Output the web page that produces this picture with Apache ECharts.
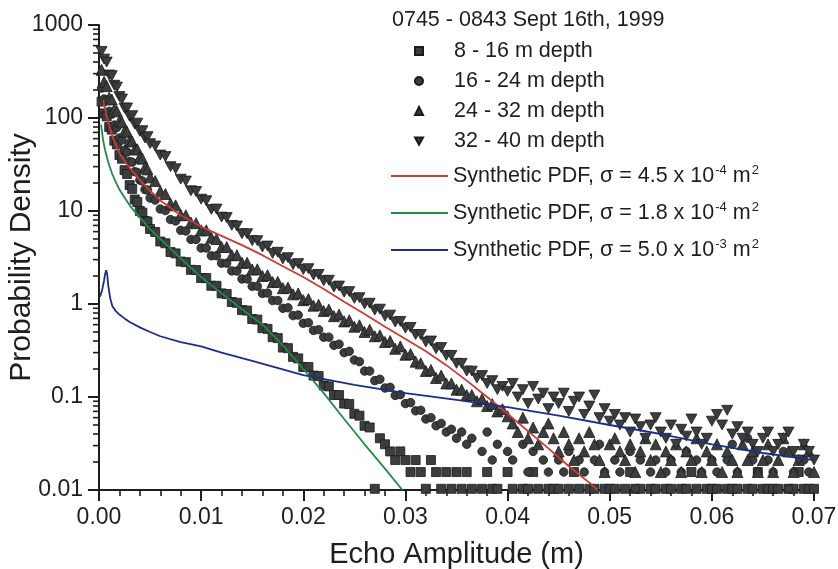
<!DOCTYPE html>
<html>
<head>
<meta charset="utf-8">
<script src="https://cdn.jsdelivr.net/npm/echarts@6/dist/echarts.min.js"></script>
<style>
  html, body { margin: 0; padding: 0; background: #ffffff; }
  #chart { width: 838px; height: 569px; }
</style>
</head>
<body>
<div id="chart"></div>
<script>
// ---------- DATA ----------
const title = '0745 - 0843 Sept 16th, 1999';
const xTitle = 'Echo Amplitude (m)';
const yTitle = 'Probability Density';
const depthNames = ['8 - 16 m depth', '16 - 24 m depth', '24 - 32 m depth', '32 - 40 m depth'];
const pdfNames = ['Synthetic PDF, σ = 4.5 x 10^-4 m^2', 'Synthetic PDF, σ = 1.8 x 10^-4 m^2', 'Synthetic PDF, σ = 5.0 x 10^-3 m^2'];
const yMinorTicks = [0.02,0.03,0.04,0.05,0.06,0.07,0.08,0.09, 0.2,0.3,0.4,0.5,0.6,0.7,0.8,0.9,
  2,3,4,5,6,7,8,9, 20,30,40,50,60,70,80,90, 200,300,400,500,600,700,800,900];

// histogram bin amplitudes (m)
const amplitude = [
0.00025,0.0005,0.00075,0.001,0.00125,0.0015,0.00175,0.002,0.00225,0.0025,
0.00275,0.003,0.00325,0.0035,0.00375,0.004,0.00425,0.0045,0.00475,0.005,
0.0055,0.006,0.0065,0.007,0.0075,0.008,0.0085,0.009,0.0095,0.010,
0.0105,0.011,0.0115,0.012,0.0125,0.013,0.0135,0.014,0.0145,0.015,
0.0155,0.016,0.0165,0.017,0.0175,0.018,0.0185,0.019,0.0195,0.020,
0.0205,0.021,0.0215,0.022,0.0225,0.023,0.0235,0.024,0.0245,0.025,
0.0255,0.026,0.0265,0.027,0.0275,0.028,0.0285,0.029,0.0295,0.030,
0.0305,0.031,0.0315,0.032,0.0325,0.033,0.0335,0.034,0.0345,0.035,
0.0355,0.036,0.0365,0.037,0.0375,0.038,0.0385,0.039,0.0395,0.040,
0.0405,0.041,0.0415,0.042,0.0425,0.043,0.0435,0.044,0.0445,0.045,
0.0455,0.046,0.0465,0.047,0.0475,0.048,0.0485,0.049,0.0495,0.050,
0.0505,0.051,0.0515,0.052,0.0525,0.053,0.0535,0.054,0.0545,0.055,
0.0555,0.056,0.0565,0.057,0.0575,0.058,0.0585,0.059,0.0595,0.060,
0.0605,0.061,0.0615,0.062,0.0625,0.063,0.0635,0.064,0.0645,0.065,
0.0655,0.066,0.0665,0.067,0.0675,0.068,0.0685,0.069,0.0695,0.070];

// 8 - 16 m depth (squares)
const depth8to16 = [
150,112,104,80,75,57,52,40,36.5,27.5,
25,19,17.3,13.3,12.5,10,9.6,7.8,7.7,6.4,
5.95,4.7,4.5,3.62,3.5,2.86,2.82,2.33,2.32,1.9,
1.9,1.57,1.57,1.3,1.28,1.05,1.03,0.86,0.85,0.69,
0.68,0.55,0.54,0.44,0.43,0.34,0.335,0.27,0.26,0.21,
0.21,0.17,0.168,0.133,0.13,0.105,0.105,0.085,0.084,0.066,
0.063,0.049,0.047,0.0103,0.036,0.031,0.026,0.021,0.026,0.021,
0.0156,0.021,0.0156,0.0103,0.021,0.0156,0.0103,0.0156,0.0103,0.0156,
0.0103,0.0156,0.0103,null,0.0103,0.0156,0.0103,0.0103,null,0.0156,
0.0103,null,0.0103,0.0103,0.0156,0.0103,null,0.0103,0.0103,0.0103,
null,0.0103,0.0156,0.0103,null,0.0103,0.0103,null,0.0103,0.0103,
0.0103,null,0.0103,0.0156,0.0103,0.0103,null,0.0103,0.0103,null,
0.0103,0.0103,null,0.0103,0.0103,0.0156,0.0103,null,0.0103,0.0103,
0.0103,null,0.0103,0.0103,0.0103,null,0.0103,0.0103,0.0156,0.0103,
0.0103,0.0103,0.0103,null,0.0103,0.0103,0.0156,0.0103,0.0103,0.0103];

// 16 - 24 m depth (circles)
const depth16to24 = [
210,160,155,118,110,84,79,61,58,45,
43,34,33.5,26.5,26,21.5,21,17,16.8,13.8,
13.1,10.5,10.1,8.1,7.8,6.2,6.1,4.95,4.95,4.0,
4.0,3.3,3.3,2.75,2.75,2.27,2.26,1.86,1.86,1.55,
1.55,1.3,1.31,1.09,1.09,0.9,0.91,0.75,0.76,0.62,
0.63,0.52,0.53,0.44,0.44,0.36,0.37,0.3,0.31,0.25,
0.24,0.19,0.19,0.15,0.155,0.125,0.127,0.104,0.106,0.085,
0.087,0.071,0.072,0.058,0.06,0.049,0.052,0.042,0.045,0.036,
0.042,0.031,0.036,null,0.026,0.042,0.021,0.031,null,0.026,
0.021,null,0.031,0.0156,0.026,null,0.021,0.0156,null,0.021,
0.0156,0.026,null,0.021,0.0156,null,0.021,0.031,0.0156,null,
0.021,0.0156,null,0.026,0.0103,0.021,null,0.0156,0.021,null,
0.0156,0.021,null,0.0156,0.026,null,0.021,0.0156,null,0.021,
0.0156,null,0.021,0.031,0.0156,null,0.036,0.021,0.0156,null,
0.021,0.0156,null,0.026,0.0103,0.0156,null,0.021,0.0156,null];

// 24 - 32 m depth (triangles)
const depth24to32 = [
330,245,220,165,158,124,118,93,90,72,
71,57,56,46,46,38,36.5,29.5,28,23,
21,16.3,15.2,12,11.5,9.1,9.0,7.5,7.4,6.2,
6.2,5.15,5.0,4.1,4.1,3.35,3.35,2.78,2.78,2.35,
2.36,2.0,2.04,1.72,1.73,1.48,1.5,1.27,1.3,1.1,
1.13,0.96,0.98,0.84,0.87,0.74,0.77,0.65,0.67,0.57,
0.59,0.5,0.53,0.45,0.46,0.39,0.4,0.33,0.35,0.285,
0.29,0.24,0.23,0.19,0.195,0.16,0.17,0.14,0.14,0.12,
0.12,0.105,0.105,0.09,0.095,0.08,0.084,0.07,0.074,0.062,
0.052,0.042,0.06,0.036,0.047,0.031,0.042,0.052,0.036,0.026,
0.042,0.031,0.021,0.036,0.026,0.042,0.031,0.021,0.0156,0.031,
0.036,0.026,0.021,0.031,0.0156,0.026,0.036,0.021,0.031,0.0156,
0.026,0.021,0.031,0.0156,0.026,0.021,0.036,0.0156,0.026,0.021,
0.031,0.0156,0.026,0.021,0.0156,0.031,0.021,0.026,0.0156,0.021,
0.031,0.0156,0.021,0.036,0.026,0.0156,0.021,0.031,0.026,0.0156];

// 32 - 40 m depth (inverted triangles)
const depth32to40 = [
520,430,400,290,285,225,215,170,160,128,
128,104,106,86,88,72,73,61,63,53,
50,40,38.5,30,28.5,22,21,16.5,16.2,13.4,
12.9,10.4,10.5,8.6,8.5,7.0,6.9,5.7,5.7,4.8,
4.8,4.1,4.2,3.5,3.6,3.05,3.15,2.65,2.72,2.35,
2.4,2.05,2.08,1.78,1.8,1.52,1.56,1.34,1.36,1.15,
1.17,1.0,1.02,0.86,0.88,0.74,0.76,0.64,0.65,0.55,
0.56,0.47,0.47,0.39,0.4,0.33,0.34,0.28,0.28,0.23,
0.23,0.19,0.19,0.16,0.17,0.14,0.15,0.12,0.13,0.115,
0.14,0.1,0.12,0.085,0.13,0.095,0.11,0.075,0.1,0.085,
0.11,0.07,0.09,0.1,0.065,0.08,0.105,0.06,0.075,0.055,
0.065,0.05,0.06,0.042,0.058,0.048,0.036,0.05,0.06,0.042,
0.036,0.05,0.031,0.045,0.038,0.058,0.042,0.031,0.036,0.055,
0.065,0.05,0.072,0.04,0.048,0.036,0.042,0.031,0.026,0.036,
0.042,0.026,0.031,0.036,0.042,0.026,0.021,0.031,0.026,0.021];

// Synthetic PDF curves
const redAmp = [0.0004,0.0006,0.0008,0.001,0.0014,0.002,0.0024,0.003,0.004,0.005,0.006,0.008,0.010,0.012,0.014,0.016,0.018,0.020,0.022,0.024,0.026,0.028,0.030,0.032,0.034,0.036,0.038,0.040,0.042,0.044,0.046,0.048,0.0488];
const redPdf = [155,125,100,82,60,42,36,29,21.5,16.5,13,9,6.8,5.4,4.3,3.35,2.55,1.95,1.45,1.06,0.78,0.57,0.42,0.31,0.22,0.15,0.1,0.066,0.043,0.028,0.018,0.012,0.01];

const greenAmp = [0.0002,0.0004,0.0006,0.0008,0.001,0.0013,0.0016,0.002,0.0025,0.003,0.004,0.005,0.006,0.008,0.010,0.012,0.014,0.016,0.018,0.020,0.022,0.024,0.026,0.028,0.0297];
const greenPdf = [85,58,45,37,31,25,21,17,14,11.5,8.5,6.4,5.0,3.1,1.95,1.3,0.88,0.6,0.36,0.2,0.11,0.058,0.031,0.017,0.01];

const blueAmp = [0.0001,0.0003,0.0005,0.0006,0.0007,0.0008,0.0009,0.0011,0.0013,0.0016,0.002,0.0025,0.003,0.004,0.005,0.006,0.008,0.010,0.012,0.015,0.020,0.025,0.030,0.035,0.040,0.045,0.050,0.055,0.060,0.065,0.070];
const bluePdf = [1.2,1.4,1.8,2.1,2.3,2.1,1.6,1.15,0.95,0.85,0.77,0.7,0.64,0.56,0.5,0.45,0.39,0.35,0.3,0.245,0.172,0.135,0.11,0.093,0.078,0.063,0.05,0.04,0.031,0.025,0.021];

// ---------- CHART ----------
const FONT = "'Liberation Sans', Arial, Helvetica, sans-serif";
const INK = '#1e1e1e';
const MARK = '#3a3e3f';
const DOWN_TRIANGLE = 'path://M0,0 L10,0 L5,9 Z';

function pairs(xs, ys) {
  const out = [];
  for (let i = 0; i < xs.length; i++) if (ys[i] != null) out.push([xs[i], ys[i]]);
  return out;
}

const scatterDefs = [
  { name: depthNames[0], data: depth8to16, symbol: 'rect', size: 9 },
  { name: depthNames[1], data: depth16to24, symbol: 'circle', size: 8.5 },
  { name: depthNames[2], data: depth24to32, symbol: 'triangle', size: 11 },
  { name: depthNames[3], data: depth32to40, symbol: DOWN_TRIANGLE, size: 11 }
];
const lineDefs = [
  { name: pdfNames[0], x: redAmp, y: redPdf, color: '#cc3a36' },
  { name: pdfNames[1], x: greenAmp, y: greenPdf, color: '#238a4a' },
  { name: pdfNames[2], x: blueAmp, y: bluePdf, color: '#1d2e86' }
];

const series = [];
scatterDefs.forEach(d => {
  series.push({
    type: 'scatter', name: d.name, data: pairs(amplitude, d.data),
    symbol: d.symbol, symbolSize: d.size, symbolKeepAspect: true,
    itemStyle: { color: MARK, borderColor: '#1a1a1a', borderWidth: 0.8, opacity: 1 },
    z: 2, silent: true
  });
});
lineDefs.forEach(d => {
  series.push({
    type: 'line', name: d.name, data: pairs(d.x, d.y),
    symbol: 'none', smooth: false,
    color: d.color, lineStyle: { color: d.color, width: 1.8 },
    z: 4, silent: true
  });
});
series.push({
  type: 'custom', name: 'yMinorTicks', silent: true, clip: false, z: 5,
  data: yMinorTicks.map(v => [0, v]),
  encode: { x: 0, y: 1 },
  renderItem: function (params, api) {
    const p = api.coord([api.value(0), api.value(1)]);
    return { type: 'line', shape: { x1: p[0] - 6, y1: p[1], x2: p[0], y2: p[1] },
             style: { stroke: INK, lineWidth: 1.6 } };
  }
});

const chart = echarts.init(document.getElementById('chart'), null, { renderer: 'canvas' });
chart.setOption({
  animation: false,
  backgroundColor: '#ffffff',
  textStyle: { fontFamily: FONT, color: INK },
  title: {
    text: title, left: 392, top: 9, padding: 0,
    textStyle: { fontFamily: FONT, fontSize: 21.5, fontWeight: 'normal', color: INK }
  },
  grid: { left: 99, right: 24, top: 25, bottom: 79, containLabel: false, outerBoundsMode: 'none' },
  legend: [
    {
      data: depthNames.map(n => ({ name: n })), orient: 'vertical', left: 414, top: 39, padding: 0,
      itemWidth: 8, itemHeight: 8, itemGap: 6, selectedMode: false,
      formatter: n => '{sp| }' + n,
      textStyle: { fontFamily: FONT, fontSize: 21.5, color: INK, lineHeight: 24,
        rich: { sp: { width: 26, lineHeight: 24, fontSize: 21.5 } } }
    },
    {
      data: pdfNames, orient: 'vertical', left: 390, top: 164, padding: 0,
      itemWidth: 57, itemHeight: 12, itemGap: 13, selectedMode: false,
      itemStyle: { opacity: 0 },
      formatter: n => n.replace(/\^(-?\d)/g, '{sup|$1}'),
      textStyle: { fontFamily: FONT, fontSize: 21.5, color: INK, lineHeight: 24,
        rich: { sup: { fontFamily: FONT, fontSize: 13, color: INK, verticalAlign: 'top', lineHeight: 24, padding: [0, 0, 0, 1] } } }
    }
  ],
  xAxis: {
    type: 'value', min: 0, max: 0.07, interval: 0.01,
    name: xTitle, nameLocation: 'middle', nameGap: 50,
    nameTextStyle: { fontFamily: FONT, fontSize: 29, color: INK },
    axisLine: { show: true, onZero: false, lineStyle: { color: INK, width: 2 } },
    axisTick: { show: true, length: 11, lineStyle: { color: INK, width: 2 } },
    minorTick: { show: true, splitNumber: 5, length: 6, lineStyle: { color: INK, width: 1.6 } },
    axisLabel: { fontFamily: FONT, fontSize: 23, color: INK, margin: 16,
      formatter: v => v.toFixed(2) },
    splitLine: { show: false }, minorSplitLine: { show: false }
  },
  yAxis: {
    type: 'log', logBase: 10, min: 0.01, max: 1000,
    name: yTitle, nameLocation: 'middle', nameGap: 62, nameMoveOverlap: false,
    nameTextStyle: { fontFamily: FONT, fontSize: 30, color: INK },
    axisLine: { show: true, onZero: false, lineStyle: { color: INK, width: 2 } },
    axisTick: { show: true, length: 11, lineStyle: { color: INK, width: 2 } },
    minorTick: { show: false },
    axisLabel: { fontFamily: FONT, fontSize: 23, color: INK, margin: 16,
      formatter: v => String(Number(Number(v).toPrecision(3))) },
    splitLine: { show: false }
  },
  series: series
});
</script>
</body>
</html>
